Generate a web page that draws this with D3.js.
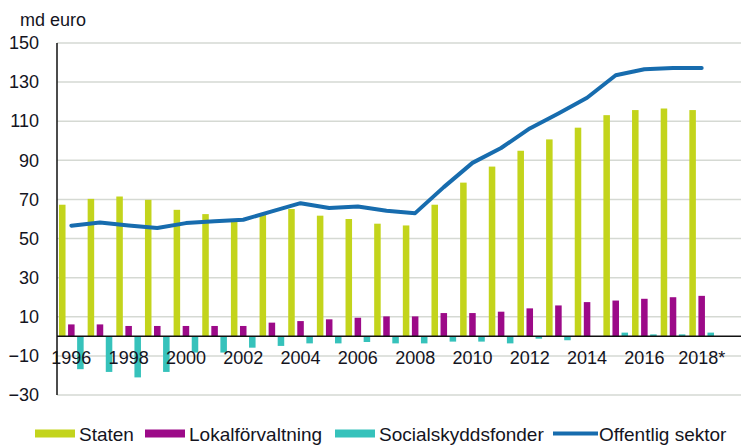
<!DOCTYPE html>
<html>
<head>
    <meta charset="utf-8">
    <script src="https://cdnjs.cloudflare.com/ajax/libs/d3/7.8.5/d3.min.js"></script>
    <style>
        body {
            margin: 0;
            background-color: #ffffff;
            overflow: hidden;
        }
        svg text {
            font-family: "Liberation Sans", Arial, sans-serif;
            fill: #14141e;
        }
    </style>
</head>
<body>
<script>
const years = d3.range(1996, 2019);
const yearLabels = years.map(y => y === 2018 ? "2018*" : String(y));
const staten = [67.3, 70.3, 71.5, 69.8, 64.7, 62.5, 59.0, 63.0, 65.1, 61.7, 60.0, 57.6, 56.7,
                67.3, 78.6, 86.8, 94.9, 100.7, 106.7, 113.1, 115.7, 116.5, 115.7];
const lokal = [6.1, 6.1, 5.3, 5.3, 5.3, 5.3, 5.3, 7.0, 7.8, 8.7, 9.5, 10.2, 10.2,
               11.9, 11.9, 12.6, 14.3, 15.8, 17.5, 18.3, 19.2, 20.0, 20.7];
const social = [-16.8, -18.2, -21.0, -18.2, -8.3, -8.3, -5.8, -4.9, -3.6, -3.6, -2.9, -3.6, -3.6,
                -2.7, -2.7, -3.6, -1.2, -2.0, -0.3, 1.9, 1.0, 1.0, 1.9];
const offentlig = [56.6, 58.2, 56.7, 55.4, 57.9, 58.8, 59.6, 63.9, 68.1, 65.6, 66.4, 64.2, 63.0,
                   76.3, 88.7, 96.3, 106.3, 114.0, 122.0, 133.5, 136.6, 137.2, 137.2];
const yTicks = [-30, -10, 10, 30, 50, 70, 90, 110, 130, 150];
const barSeries = ["Staten", "Lokalförvaltning", "Socialskyddsfonder"];
const lineSeries = "Offentlig sektor";
const colors = {
    "Staten": "#c3d41c",
    "Lokalförvaltning": "#9c0a88",
    "Socialskyddsfonder": "#36c2bb",
    "Offentlig sektor": "#176cae"
};

const width = 741;
const height = 445;
const left = 57;
const right = 741;

const svg = d3.select("body")
    .append("svg")
    .attr("width", width)
    .attr("height", height);

const x = d3.scaleBand()
    .domain(yearLabels)
    .range([left, 716]);

const x1 = d3.scaleBand()
    .domain(barSeries)
    .range([2, x.bandwidth() - 2])
    .paddingInner(0.28);

const y = d3.scaleLinear()
    .domain([-30, 150])
    .range([395, 43]);

// gridlines
svg.append("g")
    .selectAll("line")
    .data(yTicks)
    .join("line")
    .attr("x1", left)
    .attr("x2", right)
    .attr("y1", d => y(d))
    .attr("y2", d => y(d))
    .attr("stroke", "#d5d9d3")
    .attr("stroke-width", 1.5);

// y axis labels
const yAxis = svg.append("g")
    .attr("transform", `translate(${left},0)`)
    .call(d3.axisLeft(y).tickValues(yTicks).tickSize(0).tickPadding(18));
yAxis.select(".domain").remove();
yAxis.selectAll("text").style("font-size", "18px");

// bars
const rows = years.map((yr, i) => ({
    label: yearLabels[i],
    values: [staten[i], lokal[i], social[i]]
}));

svg.append("g")
    .selectAll("g")
    .data(rows)
    .join("g")
    .attr("transform", d => `translate(${x(d.label)},0)`)
    .selectAll("rect")
    .data(d => d.values.map((v, j) => ({ key: barSeries[j], value: v })))
    .join("rect")
    .attr("x", d => x1(d.key))
    .attr("width", x1.bandwidth())
    .attr("y", d => y(Math.max(0, d.value)))
    .attr("height", d => Math.abs(y(d.value) - y(0)))
    .attr("fill", d => colors[d.key]);

// x axis labels
const xAxis = svg.append("g")
    .attr("transform", `translate(0,${y(0)})`)
    .call(d3.axisBottom(x)
        .tickValues(yearLabels.filter((d, i) => i % 2 === 0))
        .tickSize(0)
        .tickPadding(15));
xAxis.select(".domain").remove();
xAxis.selectAll("text").style("font-size", "18px");

// zero line and vertical axis
svg.append("line")
    .attr("x1", left).attr("x2", right)
    .attr("y1", y(0)).attr("y2", y(0))
    .attr("stroke", "#111")
    .attr("stroke-width", 1.5);
svg.append("line")
    .attr("x1", left).attr("x2", left)
    .attr("y1", y(150)).attr("y2", y(-30))
    .attr("stroke", "#111")
    .attr("stroke-width", 1.5);

// line series
const line = d3.line()
    .x((d, i) => x(yearLabels[i]) + x.bandwidth() / 2)
    .y(d => y(d));

svg.append("path")
    .datum(offentlig)
    .attr("d", line)
    .attr("fill", "none")
    .attr("stroke", colors[lineSeries])
    .attr("stroke-width", 4)
    .attr("stroke-linejoin", "round")
    .attr("stroke-linecap", "round");

// unit title
svg.append("text")
    .attr("x", 20)
    .attr("y", 26)
    .style("font-size", "18px")
    .text("md euro");

// legend
const legendItems = [
    { key: "Staten", x: 35, type: "rect" },
    { key: "Lokalförvaltning", x: 145, type: "rect" },
    { key: "Socialskyddsfonder", x: 335, type: "rect" },
    { key: "Offentlig sektor", x: 553, type: "line" }
];
const legend = svg.append("g");
legendItems.forEach(item => {
    const g = legend.append("g").attr("transform", `translate(${item.x},433.5)`);
    if (item.type === "rect") {
        g.append("rect")
            .attr("x", 0).attr("y", -4)
            .attr("width", 40).attr("height", 8)
            .attr("fill", colors[item.key]);
    } else {
        g.append("line")
            .attr("x1", 0).attr("x2", 45)
            .attr("stroke", colors[item.key])
            .attr("stroke-width", 4);
    }
    g.append("text")
        .attr("x", item.type === "rect" ? 44 : 46)
        .attr("y", 7)
        .style("font-size", "19px")
        .text(item.key);
});
</script>
</body>
</html>
